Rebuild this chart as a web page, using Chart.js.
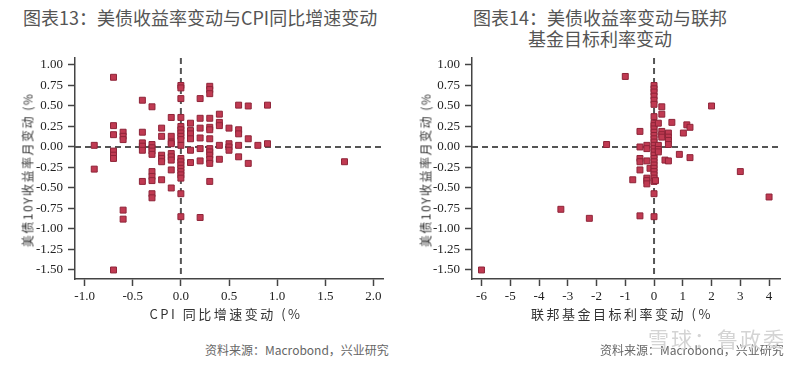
<!DOCTYPE html>
<html>
<head>
<meta charset="utf-8">
<script src="https://cdn.jsdelivr.net/npm/chart.js@4/dist/chart.umd.min.js"></script>
<style>
  html,body{margin:0;padding:0;background:#fff;width:800px;height:367px;overflow:hidden;position:relative;font-family:"Noto Sans CJK SC","Noto Sans",sans-serif;}
  .title{position:absolute;color:#555;font-size:18px;line-height:21px;white-space:nowrap;}
  .box{position:absolute;top:50px;width:400px;height:280px;}
  .ytitle{position:absolute;color:#333;font-size:12px;white-space:nowrap;transform:translate(-50%,-50%) rotate(-90deg);letter-spacing:1.5px;}
  .xtitle{position:absolute;color:#333;font-size:13px;white-space:nowrap;transform:translateX(-50%);letter-spacing:2.5px;}
  .src{position:absolute;color:#666;font-size:12px;white-space:nowrap;top:341px;}
  .wm{position:absolute;color:#d4d4d4;font-size:21px;white-space:nowrap;top:323px;left:648px;letter-spacing:2px;}
</style>
</head>
<body>
<div class="title" style="left:23px;top:7px;">图表13：美债收益率变动与CPI同比增速变动</div>
<div class="title" style="left:600px;top:7px;transform:translateX(-50%);text-align:center;">图表14：美债收益率变动与联邦<br>基金目标利率变动</div>

<div class="box" style="left:0"><canvas id="c1" width="400" height="280"></canvas></div>
<div class="box" style="left:400px"><canvas id="c2" width="400" height="280"></canvas></div>

<div class="ytitle" style="left:27px;top:170px;">美债10Y收益率月变动 (%</div>
<div class="ytitle" style="left:425px;top:170px;">美债10Y收益率月变动 (%</div>
<div class="xtitle" style="left:226px;top:304px;">CPI 同比增速变动 (%</div>
<div class="xtitle" style="left:622px;top:304px;">联邦基金目标利率变动 (%</div>

<div class="src" style="left:205px;">资料来源：Macrobond，兴业研究</div>
<div class="src" style="left:600px;">资料来源：Macrobond，兴业研究</div>
<div class="wm">雪球：鲁政委</div>

<script>
// ---- Chart 13: CPI YoY change (x) vs US 10Y yield monthly change (y) ----
const cpiX = [-0.9, -0.7, -0.6, -0.4, -0.3, -0.2, -0.1, 0.0, 0.1, 0.2, 0.3, 0.4, 0.5, 0.6, 0.7, 0.8, 0.9, 1.7];
const cpiYieldByX = [
  [0.02, -0.27],
  [0.85, 0.26, 0.15, -0.05, -0.10, -0.14, -1.50],
  [0.18, 0.13, 0.09, -0.77, -0.88],
  [0.57, 0.18, 0.05, 0.01, -0.04, -0.42],
  [0.49, 0.03, -0.01, -0.05, -0.09, -0.30, -0.36, -0.41, -0.57, -0.62],
  [0.23, 0.13, -0.10, -0.14, -0.18, -0.40],
  [0.36, 0.13, 0.06, 0.04, -0.08, -0.12, -0.16, -0.28, -0.50],
  [0.75, 0.72, 0.59, 0.36, 0.25, 0.21, 0.17, 0.13, 0.09, 0.02, -0.14, -0.18, -0.22, -0.26, -0.30, -0.34, -0.38, -0.57, -0.85],
  [0.29, 0.20, 0.16, 0.10, -0.04, -0.19],
  [0.59, 0.35, 0.23, 0.11, -0.02, -0.17, -0.86],
  [0.74, 0.70, 0.65, 0.35, 0.24, 0.21, 0.10, -0.02, -0.06, -0.10, -0.15, -0.20, -0.42],
  [0.40, 0.30, 0.26, 0.02, -0.15],
  [0.23, 0.04, 0.00, -0.04],
  [0.51, 0.21, 0.16, 0.02, -0.12],
  [0.50, 0.10, -0.20],
  [0.02],
  [0.51, 0.04],
  [-0.18]
];

// ---- Chart 14: Fed funds target rate monthly change (x) vs US 10Y yield monthly change (y) ----
const fedX = [-6.0, -3.24, -2.25, -1.65, -1.0, -0.74, -0.49, -0.25, -0.14, 0.0, 0.05, 0.15, 0.27, 0.38, 0.5, 0.62, 0.88, 1.02, 1.14, 1.25, 2.0, 3.0, 4.0];
const fedYieldByX = [
  [-1.50],
  [-0.76],
  [-0.87],
  [0.03],
  [0.86],
  [-0.40],
  [0.19, 0.00, -0.14, -0.18, -0.28, -0.84],
  [0.02, -0.02, -0.17, -0.38, -0.41, -0.45],
  [-0.26],
  [0.75, 0.71, 0.67, 0.62, 0.57, 0.52, 0.37, 0.29, 0.26, 0.22, 0.18, 0.14, 0.10, 0.06, 0.02, -0.02, -0.06, -0.10, -0.14, -0.18, -0.22, -0.26, -0.30, -0.34, -0.38, -0.42, -0.57, -0.85],
  [-0.41],
  [0.29, 0.02, -0.03, -0.06],
  [0.49, 0.40, 0.19, 0.15, 0.12],
  [-0.16],
  [0.17, 0.12, 0.08, 0.03, -0.17],
  [0.30],
  [-0.09],
  [0.17],
  [0.27],
  [0.24, -0.13],
  [0.50],
  [-0.30],
  [-0.61]
];

const yTicks = [-1.5, -1.25, -1.0, -0.75, -0.5, -0.25, 0, 0.25, 0.5, 0.75, 1.0];

function toPoints(xs, ys) {
  const pts = [];
  xs.forEach((x, i) => ys[i].forEach(y => pts.push({x: x, y: y})));
  return pts;
}

const zeroLines = {
  id: 'zeroLines',
  beforeDatasetsDraw(chart) {
    const {ctx, chartArea: a, scales: {x, y}} = chart;
    const px = x.getPixelForValue(0), py = y.getPixelForValue(0);
    ctx.save();
    ctx.strokeStyle = '#555';
    ctx.lineWidth = 2;
    ctx.setLineDash([6, 4]);
    ctx.beginPath();
    ctx.moveTo(a.left, py); ctx.lineTo(a.right, py);
    ctx.moveTo(px, a.top); ctx.lineTo(px, a.bottom);
    ctx.stroke();
    ctx.restore();
  }
};

function makeChart(id, pts, xmin, xmax, xstep, xdec, yAxisWidth, padRight) {
  const tickFont = {family: '"Liberation Serif", "Times New Roman", serif', size: 13};
  return new Chart(document.getElementById(id), {
    type: 'scatter',
    data: {datasets: [{
      data: pts,
      pointStyle: 'rect',
      pointRadius: 4.2,
      backgroundColor: '#c03a52',
      borderColor: '#8e2438',
      borderWidth: 1
    }]},
    options: {
      responsive: false,
      animation: false,
      layout: {padding: {top: 8, right: padRight, left: 0, bottom: 0}},
      plugins: {legend: {display: false}, tooltip: {enabled: false}},
      scales: {
        x: {
          type: 'linear', min: xmin, max: xmax,
          afterFit: s => { s.height = 51; s.paddingLeft = 0; s.paddingRight = 0; },
          border: {display: true, color: '#444', width: 1.5},
          grid: {drawOnChartArea: false, drawTicks: true, tickLength: 7, color: '#444', tickWidth: 1.5},
          ticks: {stepSize: xstep, includeBounds: false, color: '#222', font: tickFont, padding: 3,
                  callback: v => Number(v).toFixed(xdec)}
        },
        y: {
          type: 'linear', min: -1.61, max: 1.085,
          afterFit: s => { s.width = yAxisWidth; s.paddingTop = 0; s.paddingBottom = 0; },
          afterBuildTicks: s => { s.ticks = yTicks.map(v => ({value: v})); },
          border: {display: true, color: '#444', width: 1.5},
          grid: {drawOnChartArea: false, drawTicks: true, tickLength: 7, color: '#444', tickWidth: 1.5},
          ticks: {color: '#222', font: tickFont, padding: 5,
                  callback: v => Number(v).toFixed(2)}
        }
      }
    },
    plugins: [zeroLines]
  });
}

makeChart('c1', toPoints(cpiX, cpiYieldByX), -1.1, 2.1, 0.5, 1, 75, 17);
makeChart('c2', toPoints(fedX, fedYieldByX), -6.33, 4.38, 1, 0, 72, 20);
</script>
</body>
</html>
